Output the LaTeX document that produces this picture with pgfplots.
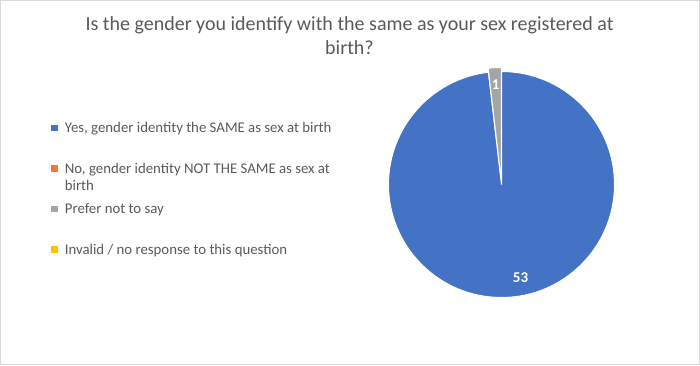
\documentclass[border=0pt]{standalone}
\usepackage{fontspec}
\setmainfont{Carlito}
\usepackage{pgfplots}
\usepackage{pgfplotstable}
\pgfplotsset{compat=1.18}
\definecolor{pieblue}{HTML}{4472C4}
\definecolor{pieorange}{HTML}{ED7D31}
\definecolor{piegray}{HTML}{A5A5A5}
\definecolor{pieyellow}{HTML}{FFC000}
\definecolor{txt}{HTML}{595959}
\definecolor{frame}{HTML}{D9D9D9}
\pgfplotstableread{
label value
Yes 53
No 0
Prefer 1
Invalid 0
}\piedata
\begin{document}
\begin{tikzpicture}
\pgfplotstablegetelem{0}{value}\of\piedata \pgfmathtruncatemacro\vA{\pgfplotsretval}
\pgfplotstablegetelem{1}{value}\of\piedata \pgfmathtruncatemacro\vB{\pgfplotsretval}
\pgfplotstablegetelem{2}{value}\of\piedata \pgfmathtruncatemacro\vC{\pgfplotsretval}
\pgfplotstablegetelem{3}{value}\of\piedata \pgfmathtruncatemacro\vD{\pgfplotsretval}
\pgfmathsetmacro\tot{\vA+\vB+\vC+\vD}
\pgfmathsetmacro\aA{90}
\pgfmathsetmacro\aB{\aA-360*(\vA/\tot)}
\pgfmathsetmacro\aC{\aB-360*(\vB/\tot)}
\pgfmathsetmacro\aD{\aC-360*(\vC/\tot)}
\pgfmathsetmacro\mA{(\aA+\aB)/2}
\pgfmathsetmacro\mC{(\aC+\aD)/2}
\useasboundingbox (0pt,0pt) rectangle (700pt,365pt);
\draw[frame, line width=0.8pt] (0.4pt,0.4pt) rectangle (699.6pt,364.6pt);
\node[font=\fontsize{20}{24}\selectfont, text=txt, anchor=base] at (349.5pt,334.3pt) {Is the gender you identify with the same as your sex registered at};
\node[font=\fontsize{20}{24}\selectfont, text=txt, anchor=base] at (349.5pt,310pt) {birth?};
\begin{axis}[
  at={(501.5pt,180.5pt)}, anchor=center,
  scale only axis, width=226pt, height=226pt,
  xmin=-1, xmax=1, ymin=-1, ymax=1,
  hide axis, clip=false,
  legend style={at={(-1.4925,0.782)}, anchor=north west, draw=none, fill=none,
    inner sep=0pt, outer sep=0pt, column sep=5.6pt, row sep=25.0pt,
    font=\fontsize{14.8}{18}\selectfont, text=txt,
    cells={anchor=base west, inner xsep=0pt, inner ysep=0pt, text height=10pt, text depth=3pt}},
]
\addplot[draw=none, forget plot] coordinates {(0,0)};
\addlegendimage{legend image code/.code={\fill[pieblue] (0pt,2.5pt) rectangle (5.7pt,7.7pt);}}
\addlegendentry{Yes, gender identity the SAME as sex at birth}
\addlegendimage{legend image code/.code={\fill[pieorange] (0pt,2.5pt) rectangle (5.7pt,7.7pt);}}
\addlegendentry{\parbox[t]{320pt}{\baselineskip=17.7pt No, gender identity NOT THE SAME as sex at\\birth}}
\addlegendimage{legend image code/.code={\fill[piegray] (0pt,2.5pt) rectangle (5.7pt,7.7pt);}}
\addlegendentry{Prefer not to say}
\addlegendimage{legend image code/.code={\fill[pieyellow] (0pt,2.5pt) rectangle (5.7pt,7.7pt);}}
\addlegendentry{Invalid / no response to this question}
\fill[pieblue, draw=white, line width=1pt] (axis cs:0,0) -- ++(\aA:113pt) arc[start angle=\aA, end angle=\aB, radius=113pt] -- cycle;
\fill[piegray, draw=white, line width=1pt] ([shift={(\mC:4pt)}]axis cs:0,0) -- ++(\aC:113pt) arc[start angle=\aC, end angle=\aD, radius=113pt] -- cycle;
\node[text=white, font=\fontsize{15}{18}\selectfont\bfseries] at (axis cs:{0.12+0.83*cos(\mA)},{0.83*sin(\mA)}) {\vA};
\node[text=white, font=\fontsize{15}{18}\selectfont\bfseries] at (axis cs:{0.885*cos(\mC)},{0.885*sin(\mC)}) {\vC};
\end{axis}
\end{tikzpicture}
\end{document}
